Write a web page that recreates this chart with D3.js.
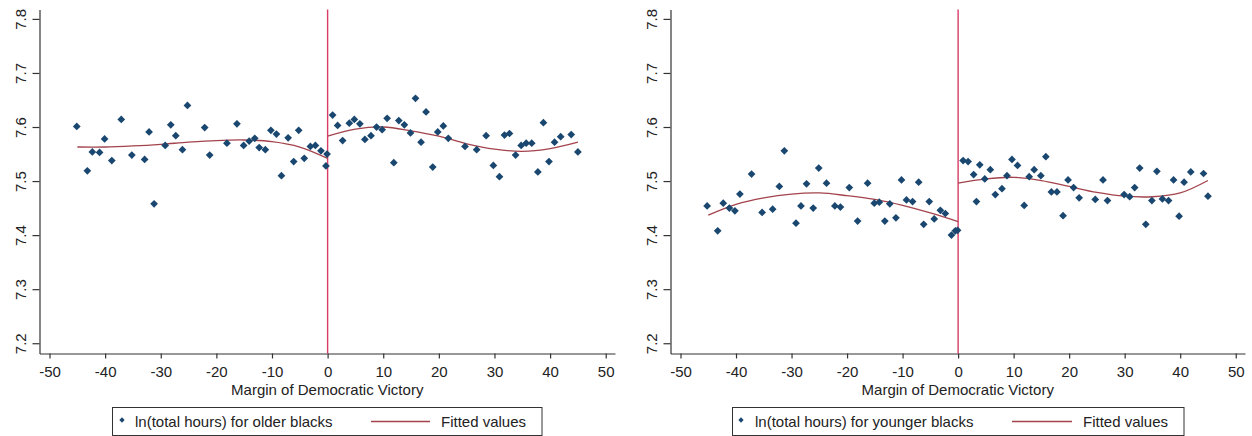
<html>
<head>
<meta charset="utf-8">
<style>
  body { margin: 0; background: #fff; }
  svg text { font-family: "Liberation Sans", Arial, sans-serif; fill: #222; }
</style>
</head>
<body>
<svg id="chart" width="1252" height="436"></svg>
<script src="https://cdn.jsdelivr.net/npm/d3@7"></script>
<script>
// binned scatter, older blacks
const oldMargin = [-45.1,-43.2,-42.3,-41.0,-40.1,-38.8,-37.1,-35.2,-32.9,-32.1,-31.2,-29.2,-28.2,-27.3,-26.1,-25.2,-22.1,-21.2,-18.1,-16.3,-15.1,-14.1,-13.1,-12.3,-11.2,-10.2,-9.2,-8.3,-7.1,-6.1,-5.2,-4.2,-3.1,-2.2,-1.2,-0.3,-0.1,
  0.9,1.8,2.7,3.9,4.8,5.8,6.7,7.8,8.8,9.8,10.7,11.9,12.8,13.8,14.9,15.8,16.8,17.7,18.9,19.8,20.8,21.7,24.7,26.8,28.5,29.8,30.9,31.8,32.7,33.8,34.8,35.7,36.7,37.8,38.8,39.8,40.8,41.9,43.8,45.0]
const oldHours = [7.601,7.519,7.554,7.553,7.578,7.538,7.614,7.548,7.540,7.591,7.458,7.566,7.604,7.584,7.558,7.640,7.599,7.548,7.570,7.606,7.566,7.574,7.579,7.562,7.558,7.594,7.587,7.510,7.580,7.536,7.594,7.542,7.564,7.566,7.556,7.528,7.550,
  7.622,7.603,7.575,7.607,7.614,7.606,7.577,7.584,7.600,7.595,7.616,7.534,7.612,7.604,7.589,7.653,7.572,7.628,7.526,7.591,7.602,7.579,7.564,7.558,7.584,7.529,7.508,7.585,7.588,7.548,7.566,7.570,7.570,7.517,7.608,7.536,7.572,7.582,7.586,7.554]

// binned scatter, younger blacks
const youngMargin = [-45.2,-43.3,-42.3,-41.2,-40.2,-39.3,-37.2,-35.3,-33.4,-32.2,-31.3,-29.2,-28.3,-27.3,-26.1,-25.1,-23.7,-22.2,-21.2,-19.6,-18.1,-16.3,-15.1,-14.2,-13.2,-12.3,-11.2,-10.2,-9.3,-8.2,-7.1,-6.2,-5.2,-4.3,-3.2,-2.3,-1.2,-0.5,-0.1,
  0.9,1.8,2.8,3.3,3.9,4.8,5.8,6.7,7.9,8.8,9.7,10.7,11.9,12.8,13.7,14.9,15.8,16.8,17.8,18.9,19.8,20.8,21.8,24.7,26.1,26.9,29.9,30.9,31.8,32.7,33.8,34.9,35.8,36.8,37.9,38.8,39.8,40.7,41.9,44.2,45.0]
const youngHours = [7.454,7.408,7.459,7.450,7.445,7.476,7.513,7.442,7.448,7.490,7.556,7.422,7.454,7.495,7.450,7.524,7.496,7.454,7.452,7.488,7.426,7.496,7.459,7.461,7.426,7.458,7.432,7.502,7.465,7.462,7.498,7.420,7.462,7.430,7.446,7.440,7.400,7.408,7.409,
  7.538,7.536,7.512,7.462,7.530,7.504,7.521,7.475,7.486,7.510,7.540,7.529,7.455,7.508,7.521,7.510,7.545,7.480,7.480,7.436,7.502,7.488,7.469,7.466,7.502,7.464,7.475,7.471,7.488,7.524,7.420,7.464,7.518,7.467,7.464,7.502,7.435,7.498,7.517,7.514,7.472]

// fitted values, each side of the cutoff
const fitLeftX  = [-45,-40,-35,-30,-25,-20,-15,-10,-5,0]
const fitRightX = [0,5,10,15,20,25,30,35,40,45]
const oldFitLeft   = [7.563,7.563,7.565,7.568,7.572,7.575,7.576,7.573,7.563,7.542]
const oldFitRight  = [7.583,7.596,7.600,7.593,7.583,7.569,7.559,7.555,7.560,7.572]
const youngFitLeft  = [7.437,7.457,7.469,7.476,7.478,7.473,7.466,7.455,7.441,7.425]
const youngFitRight = [7.496,7.504,7.507,7.501,7.490,7.479,7.472,7.471,7.478,7.501]

const xTicks = [-50,-40,-30,-20,-10,0,10,20,30,40,50]
const yTicks = [7.2,7.3,7.4,7.5,7.6,7.7,7.8]
const xTitle = "Margin of Democratic Victory"

let svg = d3.select("#chart")

let panels = [
  { x0: 39.5, x1: 615, margin: oldMargin, hours: oldHours, fitL: oldFitLeft, fitR: oldFitRight,
    label: "ln(total hours) for older blacks", box: [112.5, 542], marker: 122, text: 135, line: [371, 430], fitText: 441 },
  { x0: 670.5, x1: 1245, margin: youngMargin, hours: youngHours, fitL: youngFitLeft, fitR: youngFitRight,
    label: "ln(total hours) for younger blacks", box: [732.5, 1184], marker: 741, text: 755, line: [1012, 1072], fitText: 1083 }
]

const navy = "#1a476f"
const maroon = "#a3434c"
const cutColor = "#d83c65"

panels.forEach(drawPanel)

function drawPanel(p) {
  let x = d3.scaleLinear().domain([-51.8, 51.67]).range([p.x0, p.x1])
  let y = d3.scaleLinear().domain([7.181, 7.8174]).range([353.5, 9.5])

  let g = svg.append("g")

  // x axis (plain hyphen for negatives, as in the original)
  let xAxis = g.append("g")
    .attr("transform", "translate(0,353.5)")
    .call(d3.axisBottom(x).tickValues(xTicks).tickSize(5).tickSizeOuter(0).tickFormat(d => String(d)))
  xAxis.selectAll("text").attr("y", 12.5).style("font-size", "15px").style("font-family", "Liberation Sans, Arial, sans-serif")
  xAxis.selectAll("line,path").attr("stroke", "#333").attr("stroke-width", 1.2)

  // y axis, labels read bottom to top
  let yAxis = g.append("g")
    .attr("transform", `translate(${p.x0},0)`)
    .call(d3.axisLeft(y).tickValues(yTicks).tickSize(7).tickSizeOuter(0).tickFormat(d => d.toFixed(1)))
  yAxis.selectAll("text")
    .attr("x", 0).attr("y", -14).attr("dy", null)
    .attr("transform", "rotate(-90)")
    .style("text-anchor", "middle")
    .style("font-size", "15px").style("font-family", "Liberation Sans, Arial, sans-serif")
  yAxis.selectAll("line,path").attr("stroke", "#333").attr("stroke-width", 1.2)

  g.append("text")
    .attr("x", (p.x0 + p.x1) / 2).attr("y", 394.5)
    .attr("text-anchor", "middle")
    .style("font-size", "15px")
    .text(xTitle)

  // cutoff
  g.append("line")
    .attr("x1", x(0)).attr("x2", x(0))
    .attr("y1", y.range()[1]).attr("y2", y.range()[0])
    .attr("stroke", cutColor).attr("stroke-width", 1.4)

  // fitted curves
  let line = d3.line().x(d => x(d[0])).y(d => y(d[1])).curve(d3.curveCatmullRom)
  g.append("path").attr("d", line(d3.zip(fitLeftX, p.fitL)))
    .attr("fill", "none").attr("stroke", maroon).attr("stroke-width", 1.3)
  g.append("path").attr("d", line(d3.zip(fitRightX, p.fitR)))
    .attr("fill", "none").attr("stroke", maroon).attr("stroke-width", 1.3)

  // points
  let diamond = d3.symbol(d3.symbolSquare, 30)
  g.selectAll(".pt")
    .data(d3.zip(p.margin, p.hours))
    .enter()
    .append("path")
    .attr("d", diamond)
    .attr("transform", d => `translate(${x(d[0])},${y(d[1])}) rotate(45)`)
    .attr("fill", navy)

  // legend
  g.append("rect")
    .attr("x", p.box[0]).attr("y", 407.5)
    .attr("width", p.box[1] - p.box[0]).attr("height", 28)
    .attr("fill", "none").attr("stroke", "#333").attr("stroke-width", 1)
  g.append("path")
    .attr("d", d3.symbol(d3.symbolSquare, 14))
    .attr("transform", `translate(${p.marker},420) rotate(45)`)
    .attr("fill", navy)
  g.append("text").attr("x", p.text).attr("y", 427)
    .style("font-size", "15px").text(p.label)
  g.append("line")
    .attr("x1", p.line[0]).attr("x2", p.line[1])
    .attr("y1", 421.5).attr("y2", 421.5)
    .attr("stroke", maroon).attr("stroke-width", 1.3)
  g.append("text").attr("x", p.fitText).attr("y", 427)
    .style("font-size", "15px").text("Fitted values")
}
</script>
</body>
</html>
